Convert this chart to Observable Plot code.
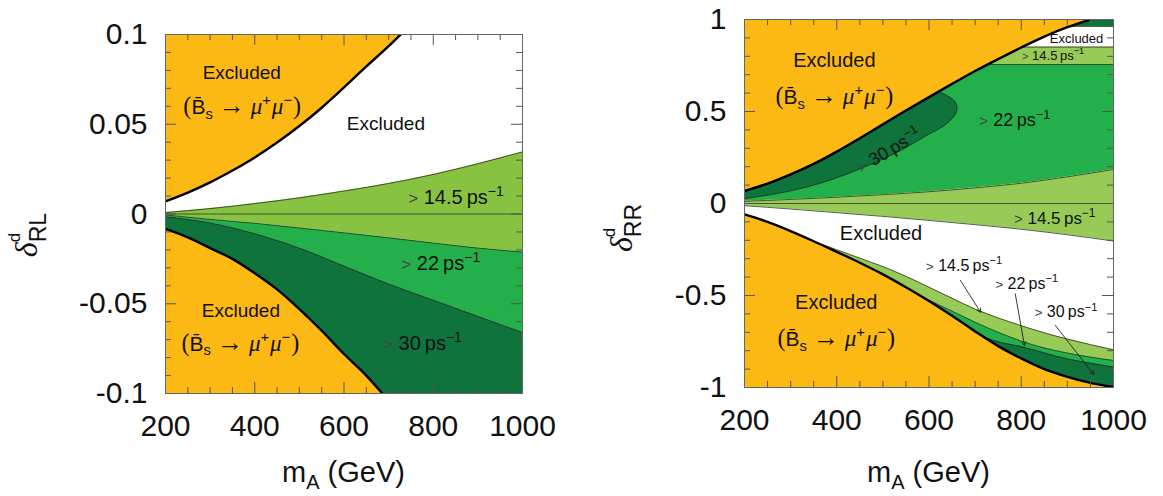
<!DOCTYPE html>
<html><head><meta charset="utf-8">
<script src="https://cdn.jsdelivr.net/npm/d3@7"></script>
<script src="https://cdn.jsdelivr.net/npm/@observablehq/plot@0.6"></script>
<style>
body{margin:0;background:#fff;}
#wrap{display:flex;width:1163px;height:496px;}
#wrap svg{flex:none;}
</style></head><body><div id="wrap"></div>
<script>
// ---------------- shared axis data ----------------
const xMajor = [200, 400, 600, 800, 1000];
const xMajorLabels = ["200", "400", "600", "800", "1000"];
const xInnerMajor = [400, 600, 800];
const xMinor = [250, 300, 350, 450, 500, 550, 650, 700, 750, 850, 900, 950];

// ---------------- left panel: delta^d_RL ----------------
const rlYMajor = [-0.1, -0.05, 0, 0.05, 0.1];
const rlYMajorLabels = ["-0.1", "-0.05", "0", "0.05", "0.1"];
const rlYInnerMajor = [-0.05, 0, 0.05];
const rlYMinor = [-0.09,-0.08,-0.07,-0.06,-0.04,-0.03,-0.02,-0.01,0.01,0.02,0.03,0.04,0.06,0.07,0.08,0.09];

// B_s -> mu mu excluded boundaries (thick lines)
const rlBsUpperM = [200, 250, 300, 350, 400, 450, 500, 550, 600, 650, 700, 727];
const rlBsUpperD = [0.007, 0.0119, 0.0176, 0.0242, 0.0315, 0.0398, 0.049, 0.0592, 0.0705, 0.0822, 0.0935, 0.100];
const rlBsLowerM = [200, 250, 300, 350, 400, 450, 500, 550, 600, 650, 686];
const rlBsLowerD = [-0.0083, -0.013, -0.019, -0.025, -0.033, -0.042, -0.053, -0.065, -0.078, -0.090, -0.100];
// Delta M_s bands
const rlGridM = [200, 300, 400, 500, 600, 700, 800, 900, 1000];
const rl145Upper = [0.0008, 0.003, 0.0058, 0.009, 0.0128, 0.017, 0.022, 0.028, 0.0346];
const rl145Lower = [-0.0005, -0.003, -0.0052, -0.0078, -0.0105, -0.0133, -0.0162, -0.019, -0.0212];
const rl22Lower = [-0.0015, -0.005, -0.011, -0.019, -0.029, -0.039, -0.048, -0.057, -0.066];

// labels: kind, value, m, delta, size
const rlLabelKind = ["ex", "bs", "ex", "rate", "rate", "rate", "ex", "bs"];
const rlLabelVal  = ["", "", "", "14.5", "22", "30", "", ""];
const rlLabelM    = [372, 373, 695, 852, 818, 777, 370, 369];
const rlLabelD    = [0.0788, 0.0595, 0.0502, 0.0093, -0.0277, -0.0722, -0.0538, -0.0723];
const rlLabelSize = [19, 21, 19, 20, 20, 20, 19, 21];

// ---------------- right panel: delta^d_RR ----------------
const rrYMajor = [-1, -0.5, 0, 0.5, 1];
const rrYMajorLabels = ["-1", "-0.5", "0", "0.5", "1"];
const rrYInnerMajor = [-0.5, 0, 0.5];
const rrYMinor = [-0.9,-0.8,-0.7,-0.6,-0.4,-0.3,-0.2,-0.1,0.1,0.2,0.3,0.4,0.6,0.7,0.8,0.9];

const rrBsUpperM = [200, 250, 300, 350, 400, 450, 500, 550, 600, 650, 700, 750, 800, 850, 900, 950];
const rrBsUpperD = [0.068, 0.108, 0.158, 0.215, 0.282, 0.355, 0.43, 0.505, 0.578, 0.65, 0.72, 0.785, 0.848, 0.907, 0.958, 1.0];
const rrBsLowerM = [200, 250, 300, 350, 400, 450, 500, 550, 600, 650, 700, 750, 800, 850, 900, 950, 1000];
const rrBsLowerD = [-0.059, -0.100, -0.150, -0.205, -0.263, -0.322, -0.385, -0.455, -0.530, -0.610, -0.695, -0.775, -0.842, -0.900, -0.942, -0.975, -0.998];

const rrGridM = [200, 300, 400, 500, 600, 700, 800, 900, 1000];
const rrNZUpper = [0.012, 0.022, 0.034, 0.048, 0.064, 0.085, 0.110, 0.145, 0.185];
const rrNZLower = [-0.012, -0.030, -0.050, -0.070, -0.092, -0.115, -0.140, -0.170, -0.204];
// horizontal band levels in the upper right corner: 22|14.5, 14.5|excluded, excluded|30
const rrTopLevels = [0.755, 0.85, 0.962];

// >30 region in upper half (closed contour; left end on the frame)
const rr30M = [200, 287, 368, 448, 529, 593, 641, 660, 658, 641, 621];
const rr30D = [0.026, 0.062, 0.113, 0.186, 0.276, 0.367, 0.439, 0.502, 0.548, 0.584, 0.606];

// lower thin bands
const rrLow145M = [350, 400, 450, 500, 550, 600, 650, 700, 750, 800, 850, 900, 950, 1000];
const rrLow145D = [-0.205, -0.252, -0.297, -0.343, -0.396, -0.455, -0.515, -0.574, -0.622, -0.664, -0.703, -0.737, -0.767, -0.795];
const rrLow22M = [550, 600, 650, 700, 750, 800, 850, 900, 950, 1000];
const rrLow22D = [-0.455, -0.525, -0.585, -0.645, -0.700, -0.748, -0.785, -0.813, -0.835, -0.853];
const rrLow30M = [720, 750, 800, 850, 900, 950, 1000];
const rrLow30D = [-0.727, -0.752, -0.778, -0.812, -0.845, -0.868, -0.889];

// arrows pointing at the thin lower bands
const rrArrowM1 = [668, 787, 874];
const rrArrowD1 = [-0.418, -0.491, -0.663];
const rrArrowM2 = [712, 807, 957];
const rrArrowD2 = [-0.591, -0.772, -0.929];

const rrLabelKind = ["ex", "bs", "ex", "rate", "rate", "rate", "rate", "ex", "rate", "rate", "rate", "ex", "bs"];
const rrLabelVal  = ["", "", "", "14.5", "22", "30", "14.5", "", "14.5", "22", "30", "", ""];
const rrLabelM    = [396, 396, 921, 870, 787, 513, 874, 497, 677, 813, 898, 400, 400];
const rrLabelD    = [0.777, 0.578, 0.895, 0.804, 0.451, 0.288, -0.082, -0.163, -0.337, -0.437, -0.59, -0.537, -0.736];
const rrLabelSize = [20, 21, 13, 13, 18, 18, 17, 20, 16, 16, 16, 20, 21];
const rrLabelRot  = [0, 0, 0, 0, 0, -30, 0, 0, 0, 0, 0, 0, 0];

// ---------------- styles ----------------
const ORANGE = "#fdb913", LIGHT_L = "#87c241", LIGHT_R = "#98ca58", MID = "#23b04b", DARK = "#0f743b";
const FONT = "'Liberation Sans', Arial, Helvetica, sans-serif";
const SERIF = "'Liberation Serif', 'DejaVu Serif', serif";
const TICK = "#555";

const rows = (ms, ds) => ms.map((m, i) => ({m, d: ds[i]}));
const band = (ms, lo, hi) => ms.map((m, i) => ({m, lo: lo[i], hi: hi[i]}));

function tickMarks(pw, ph, xInner, xMin, yInner, yMin) {
  const c = {stroke: TICK, strokeWidth: 1};
  return [
    Plot.tickX(xMin, {x: d => d, insetTop: ph - 6, ...c}),
    Plot.tickX(xMin, {x: d => d, insetBottom: ph - 6, ...c}),
    Plot.tickX(xInner, {x: d => d, insetTop: ph - 11, ...c}),
    Plot.tickX(xInner, {x: d => d, insetBottom: ph - 11, ...c}),
    Plot.tickY(yMin, {y: d => d, insetRight: pw - 6, ...c}),
    Plot.tickY(yMin, {y: d => d, insetLeft: pw - 6, ...c}),
    Plot.tickY(yInner, {y: d => d, insetRight: pw - 11, ...c}),
    Plot.tickY(yInner, {y: d => d, insetLeft: pw - 11, ...c}),
    Plot.frame({stroke: "#666", strokeWidth: 1})
  ];
}

function axes(yMajor, yLabels) {
  return [
    Plot.axisX(xMajor, {tickSize: 0, tickPadding: 21, fontSize: 30, label: null,
      tickFormat: d => xMajorLabels[xMajor.indexOf(d)]}),
    Plot.axisY(yMajor, {tickSize: 0, tickPadding: 18, fontSize: 30, label: null,
      tickFormat: d => yLabels[yMajor.indexOf(d)]})
  ];
}

// rich text with sub/superscripts
function rich(svg, x, y, parts, size, rotate = 0, anchor = "middle") {
  const t = d3.select(svg).append("text")
    .attr("text-anchor", anchor).attr("font-family", FONT)
    .attr("font-size", size).attr("fill", "#111")
    .attr("transform", `translate(${x},${y})` + (rotate ? ` rotate(${rotate})` : "") + ` translate(0,${(0.36 * size).toFixed(2)})`);
  let shift = 0;
  for (const p of parts) {
    const ts = t.append("tspan").text(p.t);
    let target = 0, fs = size * (p.scale || 1);
    if (p.sup) { target = -0.42 * size; fs = 0.7 * size; }
    if (p.sub) { target = 0.22 * size; fs = 0.7 * size; }
    if (p.shift !== undefined) target = p.shift;
    if (p.fs) fs = p.fs;
    if (target - shift !== 0) ts.attr("dy", (target - shift).toFixed(2));
    shift = target;
    ts.attr("font-size", fs.toFixed(2));
    if (p.it) ts.attr("font-style", "italic").attr("font-family", SERIF);
    if (p.serif) ts.attr("font-family", SERIF);
    if (p.dx) ts.attr("dx", p.dx);
    if (p.fill) ts.attr("fill", p.fill);
  }
  return t;
}
function labelParts(kind, val) {
  if (kind === "ex") return [{t: "Excluded"}];
  if (kind === "bs") return [{t: "(", serif: true, scale: 1.15}, {t: "B\u0304"}, {t: "s", sub: true},
    {t: "\u00a0"}, {t: "\u2192", scale: 1.25, serif: true}, {t: "\u00a0"}, {t: "\u03bc", it: true, scale: 1.1}, {t: "+", sup: true},
    {t: "\u03bc", it: true, scale: 1.1, dx: 1}, {t: "\u2212", sup: true}, {t: ")", serif: true, scale: 1.15, dx: 1}];
  return [{t: ">", fill: "#444", scale: 0.85}, {t: "\u00a0" + val + "\u2009ps"}, {t: "\u22121", sup: true}];
}
function addLabels(svg, sx, sy, kinds, vals, ms, ds, sizes, rots) {
  kinds.forEach((k, i) => rich(svg, sx.apply(ms[i]), sy.apply(ds[i]), labelParts(k, vals[i]), sizes[i], rots ? rots[i] : 0));
}
function axisTitles(svg, W, H, mL, mR, yx, yy, sub) {
  rich(svg, (mL + W - mR) / 2, H - 24, [{t: "m"}, {t: "A", sub: true, shift: 7, fs: 20}, {t: " (GeV)"}], 29);
  const t = d3.select(svg).append("text").attr("font-family", FONT).attr("fill", "#111")
    .attr("transform", `translate(${yx},${yy}) rotate(-90)`);
  t.append("tspan").text("\u03b4").attr("font-family", SERIF).attr("font-style", "italic").attr("font-size", 32);
  t.append("tspan").text("d").attr("font-size", 17).attr("dy", -17);
  t.append("tspan").text(sub).attr("font-size", 23).attr("dx", -9.5).attr("dy", 26);
}

const wrap = document.getElementById("wrap");

// ---------------- LEFT ----------------
{
  const W = 580, H = 496, mL = 165, mR = 58, mT = 34, mB = 103;
  const pw = W - mL - mR, ph = H - mT - mB;
  const C = "monotone-x";
  const chart = Plot.plot({
    width: W, height: H, marginLeft: mL, marginRight: mR, marginTop: mT, marginBottom: mB,
    style: {fontFamily: FONT, color: "#111", background: "white"},
    x: {domain: [200, 1000], axis: null},
    y: {domain: [-0.1, 0.1], axis: null},
    marks: [
      Plot.areaY(band(rlGridM, rl145Lower, rl145Upper), {x: "m", y1: "lo", y2: "hi", fill: LIGHT_L, curve: C}),
      Plot.areaY(band(rlGridM, rl22Lower, rl145Lower), {x: "m", y1: "lo", y2: "hi", fill: MID, curve: C}),
      Plot.areaY(rows(rlGridM, rl22Lower), {x: "m", y1: -0.1, y2: "d", fill: DARK, curve: C}),
      Plot.line(rows(rlGridM, rl145Upper), {x: "m", y: "d", stroke: "#2a3a20", strokeWidth: 0.8, curve: C}),
      Plot.line(rows(rlGridM, rl145Lower), {x: "m", y: "d", stroke: "#2a3a20", strokeWidth: 0.8, curve: C}),
      Plot.line(rows(rlGridM, rl22Lower), {x: "m", y: "d", stroke: "#1a2a1a", strokeWidth: 0.8, curve: C}),
      Plot.ruleY([0], {stroke: "#3a4a30", strokeWidth: 0.9}),
      Plot.areaY(rows(rlBsUpperM, rlBsUpperD), {x: "m", y1: "d", y2: 0.1, fill: ORANGE, curve: C, clip: true}),
      Plot.areaY(rows(rlBsLowerM, rlBsLowerD), {x: "m", y1: -0.1, y2: "d", fill: ORANGE, curve: C, clip: true}),
      Plot.line(rows(rlBsUpperM, rlBsUpperD), {x: "m", y: "d", stroke: "#000", strokeWidth: 2.4, curve: C, clip: true}),
      Plot.line(rows(rlBsLowerM, rlBsLowerD), {x: "m", y: "d", stroke: "#000", strokeWidth: 2.4, curve: C, clip: true}),
      ...tickMarks(pw, ph, xInnerMajor, xMinor, rlYInnerMajor, rlYMinor),
      ...axes(rlYMajor, rlYMajorLabels)
    ]
  });
  wrap.appendChild(chart);
  addLabels(chart, chart.scale("x"), chart.scale("y"), rlLabelKind, rlLabelVal, rlLabelM, rlLabelD, rlLabelSize);
  axisTitles(chart, W, H, mL, mR, 37, 235, "RL");
}

// ---------------- RIGHT ----------------
{
  const W = 583, H = 496, mL = 164, mR = 50, mT = 19, mB = 109;
  const pw = W - mL - mR, ph = H - mT - mB;
  const C = "monotone-x";
  const ends = [200, 1000];
  // >30 contour closed along the B_s boundary
  const poly30 = rows(rr30M, rr30D).concat(
    rows(rrBsUpperM, rrBsUpperD).filter(p => p.m < rr30M[rr30M.length - 1]).reverse());
  const chart = Plot.plot({
    width: W, height: H, marginLeft: mL, marginRight: mR, marginTop: mT, marginBottom: mB,
    style: {fontFamily: FONT, color: "#111", background: "white"},
    x: {domain: [200, 1000], axis: null},
    y: {domain: [-1, 1], axis: null},
    marks: [
      Plot.areaY(rows(rrGridM, rrNZUpper), {x: "m", y1: "d", y2: rrTopLevels[0], fill: MID, curve: C}),
      Plot.areaY(ends, {x: d => d, y1: rrTopLevels[0], y2: rrTopLevels[1], fill: LIGHT_R}),
      Plot.areaY(ends, {x: d => d, y1: rrTopLevels[2], y2: 1, fill: DARK}),
      Plot.line(poly30, {x: "m", y: "d", fill: DARK, stroke: "none", curve: "catmull-rom"}),
      Plot.line(rows(rr30M, rr30D), {x: "m", y: "d", stroke: "#1a2a1a", strokeWidth: 0.8, curve: "catmull-rom"}),
      Plot.areaY(band(rrGridM, rrNZLower, rrNZUpper), {x: "m", y1: "lo", y2: "hi", fill: LIGHT_R, curve: C}),
      Plot.areaY(rows(rrLow145M, rrLow145D), {x: "m", y1: -1, y2: "d", fill: LIGHT_R, curve: C}),
      Plot.areaY(rows(rrLow22M, rrLow22D), {x: "m", y1: -1, y2: "d", fill: MID, curve: C}),
      Plot.areaY(rows(rrLow30M, rrLow30D), {x: "m", y1: -1, y2: "d", fill: DARK, curve: C}),
      Plot.line(rows(rrGridM, rrNZUpper), {x: "m", y: "d", stroke: "#2a3a20", strokeWidth: 0.8, curve: C}),
      Plot.line(rows(rrGridM, rrNZLower), {x: "m", y: "d", stroke: "#2a3a20", strokeWidth: 0.8, curve: C}),
      Plot.ruleY([0], {stroke: "#3a4a30", strokeWidth: 0.9}),
      Plot.ruleY(rrTopLevels, {y: d => d, stroke: "#2a3a20", strokeWidth: 0.8}),
      Plot.line(rows(rrLow145M, rrLow145D), {x: "m", y: "d", stroke: "#2a3a20", strokeWidth: 0.8, curve: C}),
      Plot.line(rows(rrLow22M, rrLow22D), {x: "m", y: "d", stroke: "#2a3a20", strokeWidth: 0.8, curve: C}),
      Plot.line(rows(rrLow30M, rrLow30D), {x: "m", y: "d", stroke: "#1a2a1a", strokeWidth: 0.8, curve: C}),
      Plot.areaY(rows(rrBsUpperM, rrBsUpperD), {x: "m", y1: "d", y2: 1, fill: ORANGE, curve: C, clip: true}),
      Plot.areaY(rows(rrBsLowerM, rrBsLowerD), {x: "m", y1: -1, y2: "d", fill: ORANGE, curve: C, clip: true}),
      Plot.line(rows(rrBsUpperM, rrBsUpperD), {x: "m", y: "d", stroke: "#000", strokeWidth: 2.4, curve: C, clip: true}),
      Plot.line(rows(rrBsLowerM, rrBsLowerD), {x: "m", y: "d", stroke: "#000", strokeWidth: 2.4, curve: C, clip: true}),
      Plot.arrow(rrArrowM1.map((m, i) => ({m1: m, d1: rrArrowD1[i], m2: rrArrowM2[i], d2: rrArrowD2[i]})),
        {x1: "m1", y1: "d1", x2: "m2", y2: "d2", stroke: "#222", strokeWidth: 0.9, headLength: 7}),
      ...tickMarks(pw, ph, xInnerMajor, xMinor, rrYInnerMajor, rrYMinor),
      ...axes(rrYMajor, rrYMajorLabels)
    ]
  });
  wrap.appendChild(chart);
  addLabels(chart, chart.scale("x"), chart.scale("y"), rrLabelKind, rrLabelVal, rrLabelM, rrLabelD, rrLabelSize, rrLabelRot);
  axisTitles(chart, W, H, mL, mR, 52, 228, "RR");
}
</script></body></html>
